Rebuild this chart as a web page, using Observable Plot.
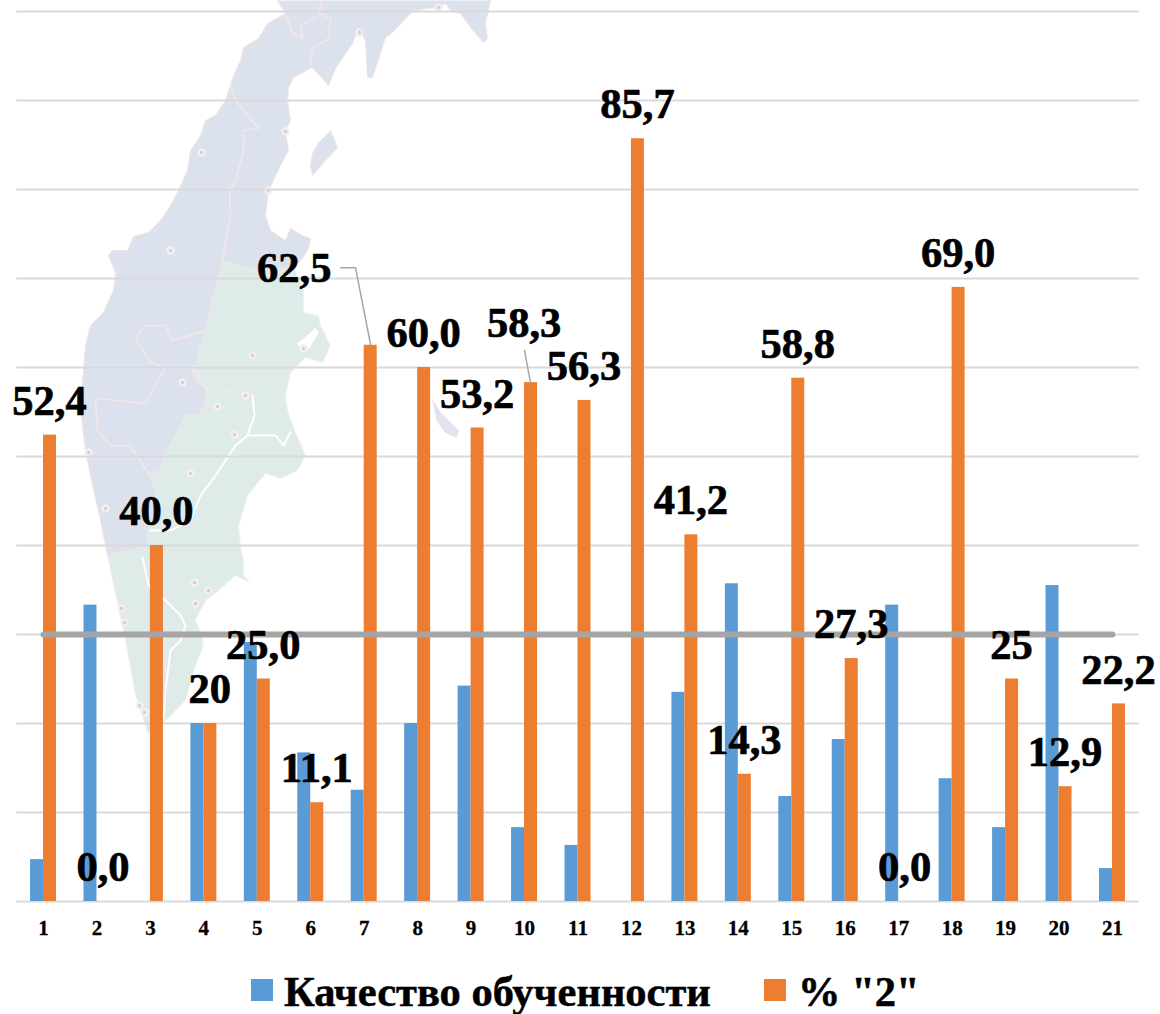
<!DOCTYPE html>
<html><head><meta charset="utf-8">
<script src="https://cdn.jsdelivr.net/npm/d3@7"></script>
<script src="https://cdn.jsdelivr.net/npm/@observablehq/plot@0.6"></script>
<style>
html,body{margin:0;padding:0;background:#fff;}
#chart svg{display:block;}
#legend{height:64px;position:relative;font-family:"Liberation Serif",serif;font-weight:bold;font-size:42.5px;color:#000;-webkit-text-stroke:0.5px #000;}
#legend span{position:absolute;white-space:nowrap;line-height:1;}
#legend i{position:absolute;display:block;width:22px;height:22px;}
</style></head><body>
<div id="chart"></div>
<div id="legend">
  <i style="left:251px;top:29px;background:#5b9bd5"></i><span style="left:284px;top:21px">Качество обученности</span>
  <i style="left:764px;top:29px;background:#ed7d31"></i><span style="left:798px;top:21px">% "2"</span>
</div>
<script>
const categories = [1,2,3,4,5,6,7,8,9,10,11,12,13,14,15,16,17,18,19,20,21];
const quality = [4.7,33.3,0,20,29.1,16.7,12.5,20,24.2,8.3,6.3,0,23.5,35.7,11.8,18.2,33.3,13.8,8.3,35.5,3.7];
const twos = [52.4,0,40,20,25,11.1,62.5,60,53.2,58.3,56.3,85.7,41.2,14.3,58.8,27.3,0,69,25,12.9,22.2];
const twoLabels = ["52,4","0,0","40,0","20","25,0","11,1","62,5","60,0","53,2","58,3","56,3","85,7","41,2","14,3","58,8","27,3","0,0","69,0","25","12,9","22,2"];
const target = categories.map(() => 30);
const gridTicks = [0,10,20,30,40,50,60,70,80,90,100];
const labelShiftX = {7:-1.42, 10:-0.12};
const labelShiftY = {7:4.83, 10:2.8};
const leaders = [
  [[6.557,71.2],[6.838,71.2],[7.122,62.5]],
  [[10,61.9],[10.11,58.3]]
];
// Background map of the peninsula, traced in picture units
const mapNorth = [[277,0],[285,13],[267,23],[258,38],[243,47],[240,60],[232,78],[225,100],[215,115],[205,120],[200,135],[190,150],[187,170],[178,190],[170,205],[160,220],[148,232],[133,236],[127,250],[112,250],[108,255],[115,272],[113,290],[103,312],[90,325],[85,345],[82,380],[81,417],[85,450],[92,485],[100,520],[107,555],[147,545],[147,530],[160,505],[148,473],[160,470],[163,455],[175,435],[185,415],[200,413],[205,400],[205,388],[195,380],[190,365],[197,365],[197,350],[205,330],[212,295],[218,280],[222,260],[258,270],[293,267],[302,258],[308,248],[310,238],[302,235],[290,228],[285,240],[270,230],[265,215],[268,190],[280,165],[288,150],[285,130],[290,120],[287,100],[288,87],[293,77],[312,67],[328,85],[335,68],[352,43],[358,28],[365,40],[367,77],[372,77],[385,37],[392,32],[413,10],[427,8],[437,7],[445,3],[450,10],[460,13],[470,27],[483,42],[487,38],[485,23],[490,0]];
const mapSouth = [[222,260],[258,270],[293,267],[303,290],[303,312],[318,315],[320,325],[330,345],[322,362],[305,357],[290,372],[285,395],[287,410],[295,432],[305,455],[297,470],[280,478],[265,473],[247,495],[238,525],[240,545],[243,560],[243,575],[250,582],[235,575],[218,590],[205,600],[195,620],[200,632],[203,645],[195,665],[185,700],[170,715],[155,730],[147,732],[135,695],[125,640],[112,580],[107,555],[130,500],[150,400],[180,300]];
const mapIsland = [[330,130],[337,147],[325,160],[312,175],[310,165],[312,153],[318,142]];
const mapSmallIsland = [[432,400],[440,412],[458,430],[456,437],[445,432],[436,420]];
const mapInlet = [[297,343],[305,337],[315,328],[318,332],[308,348],[300,350]];
const mapBorders = [
  [[322,0],[318,12],[330,18],[328,38],[312,48],[310,65]],
  [[285,13],[292,32],[302,38],[300,25],[318,15]],
  [[230,85],[235,100],[258,128],[243,130],[243,150],[235,180],[229,190],[230,215],[222,260]],
  [[205,330],[172,340],[165,325],[145,325],[135,338],[150,362],[165,367],[145,403],[97,398]],
  [[95,400],[97,430],[110,445],[130,445],[148,473]],
  [[190,365],[205,388],[245,392],[252,395]]
];
const mapGreenBorders = [
  [[252,395],[254,415],[247,435],[235,445],[215,475],[200,495],[190,520],[170,530],[150,530]],
  [[247,435],[275,435],[283,445],[290,432]],
  [[142,557],[148,585],[165,600],[180,615],[185,625],[180,640],[170,650],[165,690],[163,720]]
];
const mapTowns = [[201,152],[170,250],[252,355],[182,382],[359,32],[285,131],[268,190],[303,348],[217,406],[234,434],[190,473],[88,452],[105,508],[194,582],[208,590],[195,603],[121,608],[124,622],[139,705],[144,712],[438,7],[245,395]];

const mapX = u => 1 + (u - 43) / 53.45;
const mapY = v => (901 - v) / 8.9;
const toChart = p => ({x: mapX(p[0]), y: mapY(p[1])});
const poly = (pts, fill, stroke) => Plot.line(pts.map(toChart), {x:"x", y:"y", fill, stroke, strokeWidth:1, z:null});

const rows = categories.map((c,i) => ({c, q:quality[i], t:twos[i], line:target[i], label:twoLabels[i]}));
const barW = 0.243;
const serif = '"Liberation Serif", serif';

const plot = Plot.plot({
  width: 1160, height: 950,
  marginLeft: 16.3, marginRight: 21.3, marginTop: 11, marginBottom: 49,
  style: {background:"#fff", overflow:"visible"},
  x: {type:"linear", domain:[0.5,21.5], axis:null},
  y: {domain:[0,100], axis:null},
  marks: [
    poly(mapSouth, "#deebe9", "#f6f2f0"),
    poly(mapNorth, "#dbe2ee", "#f6e3e3"),
    poly(mapIsland, "#dbe2ee", "#f6e3e3"),
    poly(mapSmallIsland, "#dfe5f0", "#f6e3e3"),
    poly(mapInlet, "#ffffff", "#ffffff"),
    ...mapBorders.map(b => Plot.line(b.map(toChart), {x:"x", y:"y", stroke:"#f7e6e6", strokeWidth:1.5})),
    ...mapGreenBorders.map(b => Plot.line(b.map(toChart), {x:"x", y:"y", stroke:"#ffffff", strokeWidth:2})),
    Plot.dot(mapTowns.map(toChart), {x:"x", y:"y", r:3, fill:"#d5d0d0", stroke:"#f5efef", strokeWidth:2.5}),
    Plot.ruleY(gridTicks, {stroke:"#d9d9d9", strokeWidth:2}),
    Plot.rectY(rows, {x1:d => d.c - barW, x2:"c", y:"q", fill:"#5b9bd5"}),
    Plot.rectY(rows, {x1:"c", x2:d => d.c + barW, y:"t", fill:"#ed7d31"}),
    Plot.line(rows, {x:"c", y:"line", stroke:"#a5a5a5", strokeWidth:6, strokeLinecap:"round"}),
    ...leaders.map(l => Plot.line(l, {x:d => d[0], y:d => d[1], stroke:"#a6a6a6", strokeWidth:1.5})),
    Plot.text(rows, {
      x:d => d.c + barW/2 + (labelShiftX[d.c] || 0),
      y:d => d.t + (labelShiftY[d.c] || 0),
      text:"label", dy:-34, dx:-0.5, lineAnchor:"middle", textAnchor:"middle",
      fontFamily:serif, fontWeight:"bold", fontSize:42.5, fill:"#000", stroke:"#000", strokeWidth:0.7
    }),
    Plot.text(rows, {
      x:"c", y:d => 0, text:d => String(d.c), dy:27, lineAnchor:"middle", textAnchor:"middle",
      fontFamily:serif, fontWeight:"bold", fontSize:21, fill:"#000", stroke:"#000", strokeWidth:0.3
    })
  ]
});
document.getElementById("chart").appendChild(plot);
</script>
</body></html>
